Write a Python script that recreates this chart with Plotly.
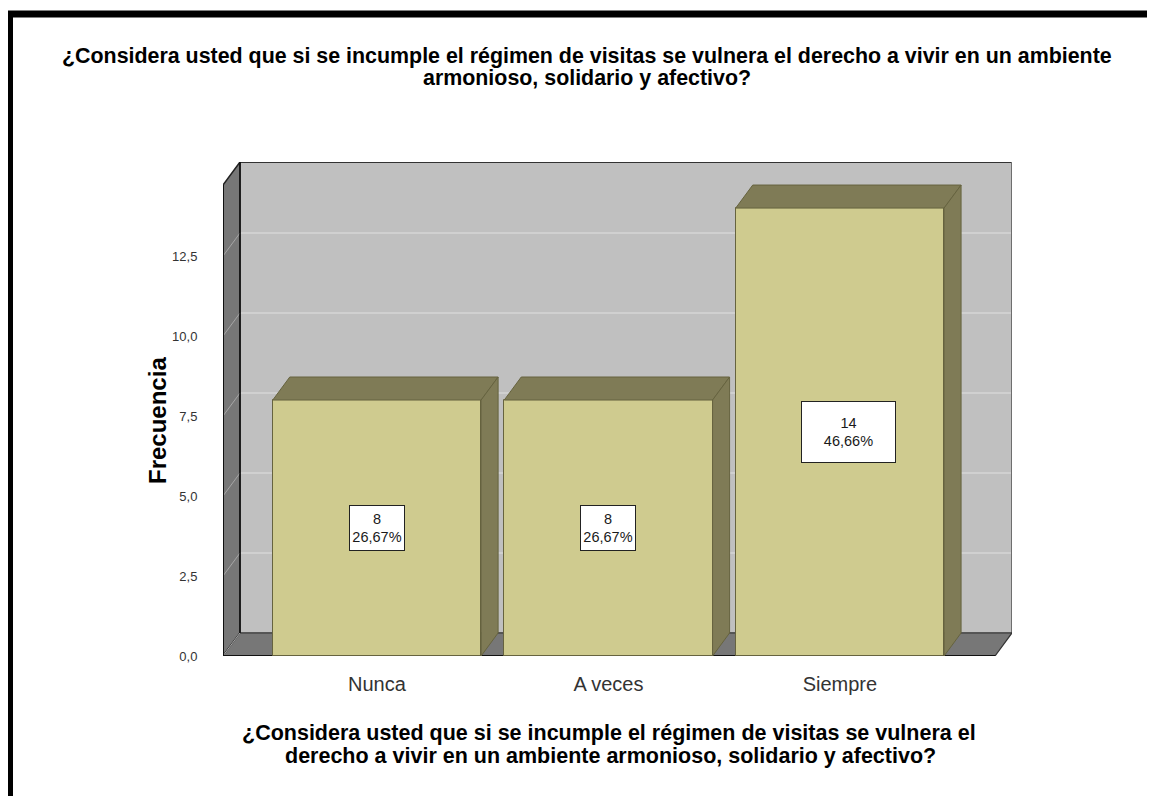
import plotly.graph_objects as go

# ---- data ----
categories = ["Nunca", "A veces", "Siempre"]
frequencies = [8, 8, 14]
percent_labels = ["26,67%", "26,67%", "46,66%"]
y_tick_values = [0, 2.5, 5, 7.5, 10, 12.5]
y_tick_labels = ["0,0", "2,5", "5,0", "7,5", "10,0", "12,5"]
title_lines = ["¿Considera usted que si se incumple el régimen de visitas se vulnera el derecho a vivir en un ambiente",
               "armonioso, solidario y afectivo?"]
xaxis_title_lines = ["¿Considera usted que si se incumple el régimen de visitas se vulnera el",
                     "derecho a vivir en un ambiente armonioso, solidario y afectivo?"]
yaxis_title_text = "Frecuencia"

# ---- geometry / style ----
X0, X1 = -0.665, 2.67          # front floor extent (axis units)
DX, DY = 0.0734, 0.72          # depth offset (axis units)
YMAX = 14.72                   # wall top (front)
BAR_W = 0.9
FRONT = "#CFCB8F"
DARK = "#7F7B56"
EDGE = "#66633F"
WALL_BACK = "#C0C0C0"
WALL_SIDE = "#777777"
GRID_BACK = "#D6D6D6"
GRID_SIDE = "#A6A6A6"
FONT = "Liberation Sans, Arial, sans-serif"
label_box_w = [52, 52, 91]
label_box_h = [42, 42, 58]
label_xshift = [0, 0, 9]

BODY = 8                        # page body margin of the html page
PW, PH = 789, 494               # plot area size in px
LS, TS = 223, 162               # plot area top-left on screen
L, T = LS - BODY, TS - BODY     # margins inside the figure
W, H = 1155, 796


def sx(px):  # screen x -> paper
    return (px - LS) / PW


def sy(py):  # screen y -> paper
    return (TS + PH - py) / PH


def fx(px):  # figure x -> paper
    return (px - L) / PW


def fy(py):  # figure y -> paper
    return (T + PH - py) / PH


fig = go.Figure()

shapes = []
# back wall
shapes.append(dict(type="rect", xref="x", yref="y", x0=X0 + DX, x1=X1 + DX, y0=DY, y1=YMAX + DY,
                   fillcolor=WALL_BACK, line=dict(width=0), layer="below"))
# back wall grid lines
for v in y_tick_values[1:]:
    shapes.append(dict(type="line", xref="x", yref="y", x0=X0 + DX, x1=X1 + DX, y0=v + DY, y1=v + DY,
                       line=dict(color=GRID_BACK, width=1.5), layer="below"))
# back wall top & right edges
shapes.append(dict(type="line", xref="x", yref="y", x0=X0 + DX, x1=X1 + DX, y0=YMAX + DY, y1=YMAX + DY,
                   line=dict(color="#333333", width=2), layer="below"))
shapes.append(dict(type="line", xref="x", yref="y", x0=X1 + DX, x1=X1 + DX, y0=DY, y1=YMAX + DY,
                   line=dict(color="#6E6E6E", width=2), layer="below"))
# left wall
shapes.append(dict(type="path", xref="x", yref="y",
                   path=f"M {X0},0 L {X0},{YMAX} L {X0+DX},{YMAX+DY} L {X0+DX},{DY} Z",
                   fillcolor=WALL_SIDE, line=dict(color="#222222", width=1.5), layer="below"))
# floor
shapes.append(dict(type="path", xref="x", yref="y",
                   path=f"M {X0},0 L {X1},0 L {X1+DX},{DY} L {X0+DX},{DY} Z",
                   fillcolor=WALL_SIDE, line=dict(color="#333333", width=1.2), layer="below"))
# left wall grid diagonals
for v in y_tick_values:
    shapes.append(dict(type="line", xref="x", yref="y", x0=X0, x1=X0 + DX, y0=v, y1=v + DY,
                       line=dict(color=GRID_SIDE, width=1), layer="below"))
# inner back-left edge
shapes.append(dict(type="line", xref="x", yref="y", x0=X0 + DX, x1=X0 + DX, y0=DY, y1=YMAX + DY,
                   line=dict(color="#111111", width=1.5), layer="below"))
# front edges
shapes.append(dict(type="line", xref="x", yref="y", x0=X0, x1=X0, y0=0, y1=YMAX,
                   line=dict(color="#111111", width=2), layer="below"))
shapes.append(dict(type="line", xref="x", yref="y", x0=X0, x1=X1, y0=0, y1=0,
                   line=dict(color="#111111", width=2), layer="below"))
# outer frame (figure coords)
shapes.append(dict(type="rect", xref="paper", yref="paper",
                   x0=fx(1.5), x1=fx(W + 20), y0=fy(H + 20), y1=fy(6),
                   line=dict(color="black", width=7), fillcolor="rgba(0,0,0,0)", layer="above"))

xs = list(range(len(categories)))

# front faces
fig.add_trace(go.Bar(x=xs, y=frequencies, width=BAR_W, marker=dict(color=FRONT, line=dict(color=EDGE, width=1)),
                     hoverinfo="skip", showlegend=False))

# top & side faces
h = BAR_W / 2
for i, v in zip(xs, frequencies):
    fig.add_trace(go.Scatter(x=[i - h, i + h, i + h + DX, i - h + DX, i - h],
                             y=[v, v, v + DY, v + DY, v], mode="lines", fill="toself",
                             fillcolor=DARK, line=dict(color=EDGE, width=1), hoverinfo="skip", showlegend=False))
    fig.add_trace(go.Scatter(x=[i + h, i + h + DX, i + h + DX, i + h, i + h],
                             y=[0, DY, v + DY, v, 0], mode="lines", fill="toself",
                             fillcolor=DARK, line=dict(color=EDGE, width=1), hoverinfo="skip", showlegend=False))

annotations = []
for i, v, p, w, hh, xs_ in zip(xs, frequencies, percent_labels, label_box_w, label_box_h, label_xshift):
    annotations.append(dict(x=i, y=v / 2, xref="x", yref="y", text=f"{v}<br>{p}", showarrow=False,
                            font=dict(family=FONT, size=14.5, color="#1a1a1a"), bgcolor="white",
                            bordercolor="#222222", borderwidth=1, borderpad=1, width=w, height=hh,
                            xshift=xs_, align="center", valign="middle"))
for line, cx, cy in zip(title_lines, [587, 587], [56, 78]):
    annotations.append(dict(x=sx(cx), y=sy(cy), xref="paper", yref="paper",
                            text=f"<b>{line}</b>", showarrow=False, xanchor="center", yanchor="middle",
                            font=dict(family=FONT, size=21.4, color="black")))
for line, cx, cy in zip(xaxis_title_lines, [609, 610], [733, 756]):
    annotations.append(dict(x=sx(cx), y=sy(cy), xref="paper", yref="paper",
                            text=f"<b>{line}</b>", showarrow=False, xanchor="center", yanchor="middle",
                            font=dict(family=FONT, size=21.5, color="black")))
annotations.append(dict(x=sx(157), y=sy(421), xref="paper", yref="paper",
                        text=f"<b>{yaxis_title_text}</b>", showarrow=False, xanchor="center", yanchor="middle",
                        textangle=-90, font=dict(family=FONT, size=24, color="black")))

fig.update_layout(
    width=W, height=H,
    margin=dict(l=L, r=W - L - PW, t=T, b=H - T - PH),
    paper_bgcolor="white", plot_bgcolor="white",
    shapes=shapes, annotations=annotations,
    bargap=0, showlegend=False,
    xaxis=dict(range=[X0, X1 + DX], tickvals=xs, ticktext=categories, showgrid=False, zeroline=False,
               showline=False, ticks="outside", ticklen=10, tickcolor="rgba(0,0,0,0)",
               tickfont=dict(family=FONT, size=20, color="#333333")),
    yaxis=dict(range=[0, YMAX + DY], tickvals=y_tick_values, ticktext=y_tick_labels, showgrid=False,
               zeroline=False, showline=False, ticks="outside", ticklen=22, tickcolor="rgba(0,0,0,0)",
               tickfont=dict(family=FONT, size=13, color="#333333")),
)

fig.write_html("out.html")
